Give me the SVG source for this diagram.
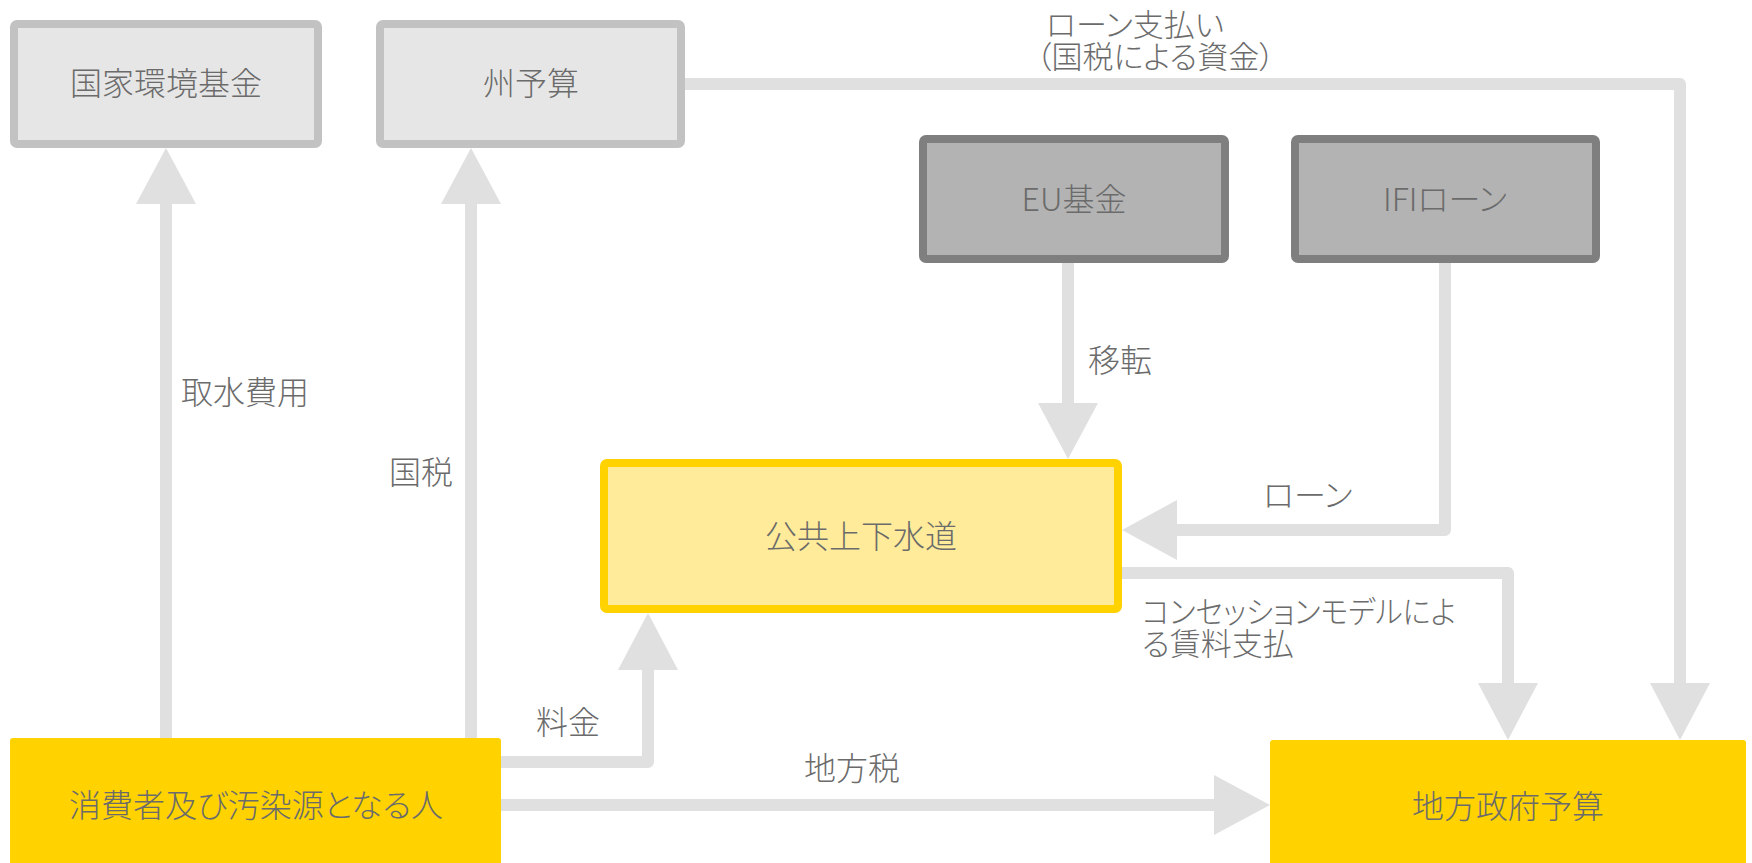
<svg xmlns="http://www.w3.org/2000/svg" width="1752" height="863" viewBox="0 0 1752 863">
<defs>
<style>
text{font-family:"Liberation Sans","Noto Sans CJK JP",sans-serif;font-size:32px;font-weight:300;fill:#6b6b6b;font-feature-settings:"palt";}
.lat{font-family:"Noto Sans CJK JP","Liberation Sans",sans-serif;}
.c{text-anchor:middle;}
.e{text-anchor:end;}
.two{font-size:31px;}
.light{fill:#e6e6e6;stroke:#c2c2c2;stroke-width:8;}
.dark{fill:#b3b3b3;stroke:#7f7f7f;stroke-width:8;}
.water{fill:#ffeb99;stroke:#ffd200;stroke-width:8;}
.gold{fill:#ffd200;}
.ln{fill:none;stroke:#e0e0e0;stroke-width:12;stroke-linejoin:round;}
.ah{fill:#e0e0e0;}
</style>
</defs>
<rect width="1752" height="863" fill="#ffffff"/>

<g id="connectors">
  <!-- 取水費用 -->
  <path class="ln" d="M166 738 V203"/>
  <polygon class="ah" points="166,148 136,204 196,204"/>
  <!-- 国税 -->
  <path class="ln" d="M471 738 V203"/>
  <polygon class="ah" points="471,148 441,204 501,204"/>
  <!-- 料金 -->
  <path class="ln" d="M501 762 H648 V669"/>
  <polygon class="ah" points="648,613 618,670 678,670"/>
  <!-- 地方税 -->
  <path class="ln" d="M501 805 H1215"/>
  <polygon class="ah" points="1270,805 1214,775 1214,835"/>
  <!-- 移転 -->
  <path class="ln" d="M1068 263 V404"/>
  <polygon class="ah" points="1068,459 1038,403 1098,403"/>
  <!-- ローン -->
  <path class="ln" d="M1445 263 V530 H1176"/>
  <polygon class="ah" points="1122,530 1177,500 1177,560"/>
  <!-- コンセッション -->
  <path class="ln" d="M1122 573 H1508 V684"/>
  <polygon class="ah" points="1508,740 1478,683 1538,683"/>
  <!-- ローン支払い -->
  <path class="ln" d="M685 84 H1680 V684"/>
  <polygon class="ah" points="1680,740 1650,683 1710,683"/>

  <text x="181" y="404">取水費用</text>
  <text class="e" x="453" y="484">国税</text>
  <text x="536" y="734">料金</text>
  <text class="c" x="852" y="780">地方税</text>
  <text x="1088" y="372">移転</text>
  <text x="1263" y="507">ローン</text>
  <text class="two" x="1142" y="623" textLength="314" lengthAdjust="spacingAndGlyphs">コンセッションモデルによ</text>
  <text class="two" x="1142" y="655">る賃料支払</text>
  <text class="two" x="1046" y="36">ローン支払い</text>
  <text class="two" x="1036" y="68">（国税による資金）</text>
</g>

<g id="node-national-env-fund">
  <rect class="light" x="14" y="24" width="304" height="120" rx="3"/>
  <text class="c" x="166" y="95">国家環境基金</text>
</g>
<g id="node-state-budget">
  <rect class="light" x="380" y="24" width="301" height="120" rx="3"/>
  <text class="c" x="531" y="95">州予算</text>
</g>
<g id="node-eu-fund">
  <rect class="dark" x="923" y="139" width="302" height="120" rx="3"/>
  <text class="c lat" x="1074" y="211">EU基金</text>
</g>
<g id="node-ifi-loan">
  <rect class="dark" x="1295" y="139" width="301" height="120" rx="3"/>
  <text class="c lat" x="1445" y="211">IFIローン</text>
</g>
<g id="node-public-water">
  <rect class="water" x="604" y="463" width="514" height="146" rx="3"/>
  <text class="c" x="861" y="548">公共上下水道</text>
</g>
<g id="node-consumers">
  <rect class="gold" x="10" y="738" width="491" height="135" rx="3"/>
  <text class="c" x="256" y="817">消費者及び汚染源となる人</text>
</g>
<g id="node-local-gov-budget">
  <rect class="gold" x="1270" y="740" width="476" height="135" rx="3"/>
  <text class="c" x="1508" y="818">地方政府予算</text>
</g>
</svg>
